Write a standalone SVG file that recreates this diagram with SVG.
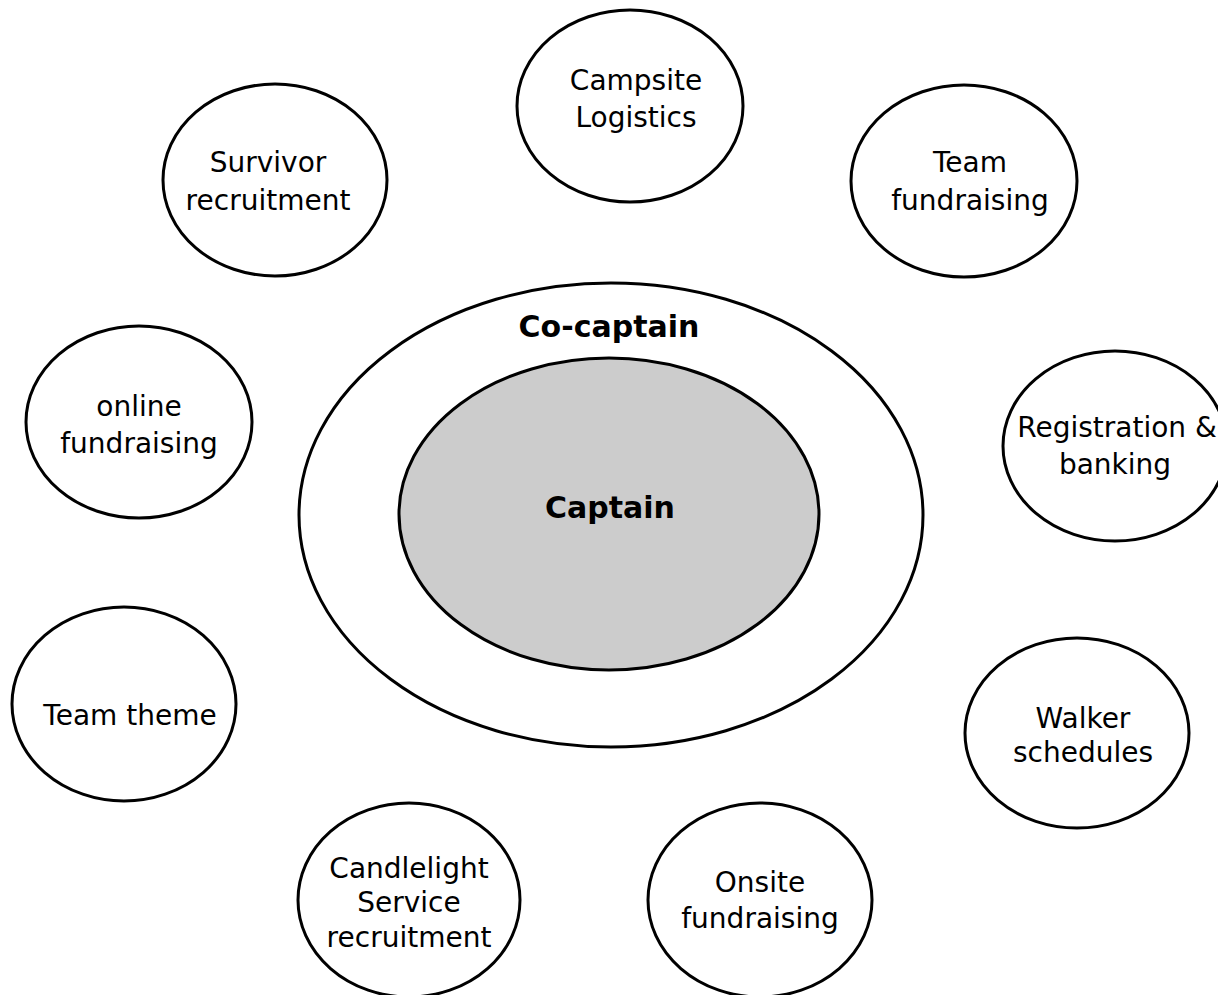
<svg xmlns="http://www.w3.org/2000/svg" width="1218" height="995" viewBox="0 0 1218 995">
<style>
.c{fill:#ffffff;stroke:#000000;stroke-width:3}
.t{font-family:"DejaVu Sans","Noto Sans",sans-serif;font-size:28px;fill:#000000;text-anchor:middle}
.b{font-family:"DejaVu Sans","Noto Sans",sans-serif;font-size:30px;font-weight:bold;fill:#000000;text-anchor:middle}
</style>
<rect width="1218" height="995" fill="#ffffff"/>
<g id="connectors"></g>
<g id="co-captain">
<ellipse class="c" cx="611" cy="515" rx="312" ry="232"/>
<text class="b" x="609" y="337">Co-captain</text>
</g>
<g id="captain">
<ellipse cx="609" cy="514" rx="210" ry="156" fill="#cccccc" stroke="#000000" stroke-width="3"/>
<text class="b" x="610" y="518">Captain</text>
</g>
<g id="campsite-logistics">
<ellipse class="c" cx="630" cy="106" rx="113" ry="96"/>
<text class="t" x="636" y="90">Campsite</text>
<text class="t" x="636" y="127">Logistics</text>
</g>
<g id="survivor-recruitment">
<ellipse class="c" cx="275" cy="180" rx="112" ry="96"/>
<text class="t" x="268" y="172">Survivor</text>
<text class="t" x="268" y="210">recruitment</text>
</g>
<g id="team-fundraising">
<ellipse class="c" cx="964" cy="181" rx="113" ry="96"/>
<text class="t" x="970" y="172">Team</text>
<text class="t" x="970" y="210">fundraising</text>
</g>
<g id="online-fundraising">
<ellipse class="c" cx="139" cy="422" rx="113" ry="96"/>
<text class="t" x="139" y="416">online</text>
<text class="t" x="139" y="453">fundraising</text>
</g>
<g id="registration-banking">
<ellipse class="c" cx="1115" cy="446" rx="112" ry="95"/>
<text class="t" x="1117" y="437">Registration &amp;</text>
<text class="t" x="1115" y="474">banking</text>
</g>
<g id="team-theme">
<ellipse class="c" cx="124" cy="704" rx="112" ry="97"/>
<text class="t" x="130" y="725">Team theme</text>
</g>
<g id="walker-schedules">
<ellipse class="c" cx="1077" cy="733" rx="112" ry="95"/>
<text class="t" x="1083" y="728">Walker</text>
<text class="t" x="1083" y="762">schedules</text>
</g>
<g id="candlelight-service-recruitment">
<ellipse class="c" cx="409" cy="900" rx="111" ry="97"/>
<text class="t" x="409" y="878">Candlelight</text>
<text class="t" x="409" y="912">Service</text>
<text class="t" x="409" y="947">recruitment</text>
</g>
<g id="onsite-fundraising">
<ellipse class="c" cx="760" cy="900" rx="112" ry="97"/>
<text class="t" x="760" y="892">Onsite</text>
<text class="t" x="760" y="928">fundraising</text>
</g>
</svg>
